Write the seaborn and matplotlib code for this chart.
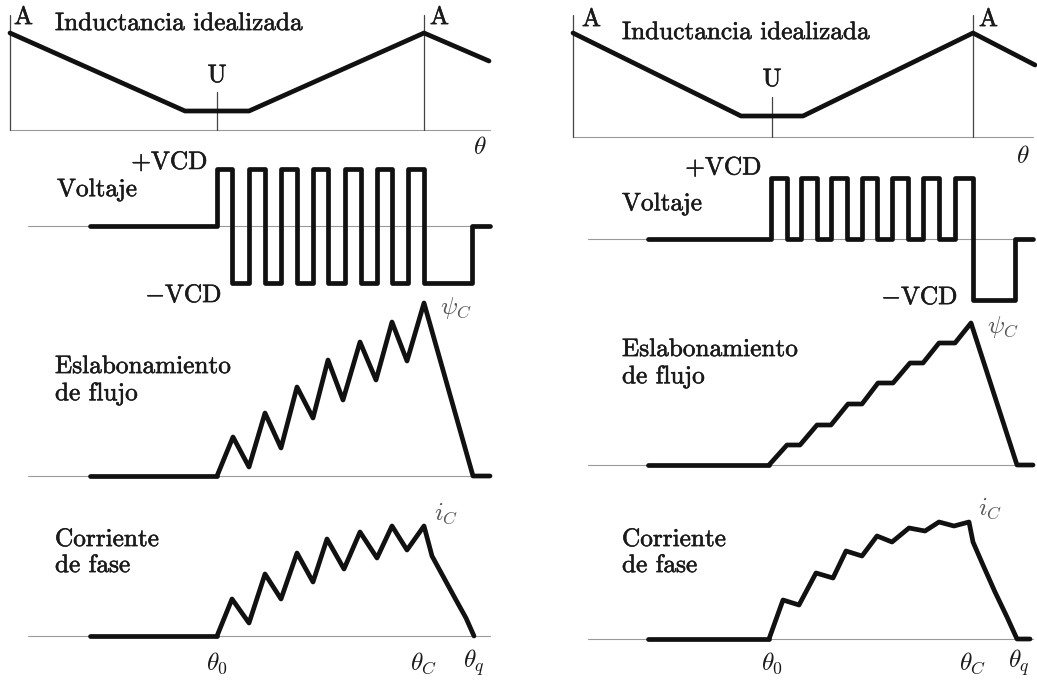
import matplotlib
matplotlib.use("Agg")
import matplotlib.pyplot as plt
import matplotlib.patheffects as pe
import seaborn as sns

# ---------------- data: left column (bipolar switching) ----------------
# θ in arbitrary angular units measured from the aligned position A
L_ind_theta = [0, 175, 239, 414, 479]
L_ind_val = [97, 19, 19, 97, 69]
L_theta_A = [0, 414]
L_theta_U = 207
L_axis_end = 480
L_thin_start = 18
L_thick_start = 80

L_on = [207, 239, 271, 303, 335, 367, 398]
L_off = [222, 255, 287, 318, 351, 382, 414]
L_gap_level = -1
L_tail_theta = [414, 462, 462, 480]
L_tail_v = [-1, -1, 0, 0]

L_flux_theta = [207, 223, 239, 255, 271, 287, 303, 318, 333, 350, 366, 382, 397, 414, 463, 480]
L_flux_val = [0, 39, 9, 63, 28, 89, 58, 116, 76, 134, 96, 154, 115, 173, 0, 0]

L_cur_theta = [207, 222, 239, 255, 271, 287, 303, 317, 334, 350, 367, 382, 397, 414, 422, 434, 446, 456, 464]
L_cur_val = [0, 37, 13, 62, 37, 83, 54, 97, 67, 104, 78, 110, 86, 110, 80, 58, 36, 18, 0]
L_theta_marks = [207, 414, 464]

# ---------------- data: right column (unipolar switching) ----------------
R_ind_theta = [0, 168, 230, 400, 462]
R_ind_val = [104, 21, 21, 104, 72]
R_theta_A = [0, 400]
R_theta_U = 199
R_axis_end = 460
R_thin_start = 15
R_thick_start = 75

R_on = [198, 228, 258, 289, 319, 350, 382]
R_off = [214, 244, 274, 304, 335, 366, 400]
R_gap_level = 0
R_tail_theta = [400, 442, 442, 460]
R_tail_v = [-1, -1, 0, 0]

R_flux_theta = [196, 214, 227, 244, 258, 275, 289, 305, 320, 337, 350, 366, 382, 398, 444, 460]
R_flux_val = [0, 20, 20, 40, 40, 61, 61, 82, 82, 102, 102, 122, 122, 142, 0, 0]

R_cur_theta = [196, 210, 226, 243, 260, 273, 289, 304, 319, 336, 352, 366, 381, 396, 400, 410, 422, 434, 444, 457]
R_cur_val = [0, 39, 34, 66, 61, 88, 83, 103, 97, 111, 108, 117, 113, 117, 97, 74, 47, 22, 0, 0]
R_theta_marks = [199, 400, 446]

# ---------------- style ----------------
sns.set_style("white")
plt.rcParams["font.family"] = ["cmr10", "DejaVu Serif"]
plt.rcParams["mathtext.fontset"] = "cm"
plt.rcParams["axes.unicode_minus"] = False
plt.rcParams["axes.formatter.use_mathtext"] = True

INK = "#111111"
GREY = "#9a9a9a"
THICK = 3.4
FS = 18.2

W, H = 1037, 687
fig = plt.figure(figsize=(W / 100, H / 100), dpi=100)
fig.patch.set_facecolor("white")


def panel(left, right, top, bottom, origin, baseline, yscale=1.0):
    ax = fig.add_axes([left / W, 1 - bottom / H, (right - left) / W, (bottom - top) / H])
    ax.set_xlim(left - origin, right - origin)
    ax.set_ylim((baseline - bottom) / yscale, (baseline - top) / yscale)
    ax.axis("off")
    return ax


def curve(ax, x, y, lw=THICK, color=INK):
    sns.lineplot(x=x, y=y, ax=ax, sort=False, estimator=None, color=color,
                 linewidth=lw, solid_capstyle="round", solid_joinstyle="round",
                 legend=False, clip_on=False)


def label(ax, x, y, s, ha="left", va="center", color="#1a1a1a", size=FS, halo=True):
    t = ax.text(x, y, s, ha=ha, va=va, color=color, fontsize=size, clip_on=False)
    if halo:
        t.set_path_effects([pe.withStroke(linewidth=0.4, foreground=color)])


def square_wave(start, on, off, gap, tail_t, tail_v):
    xs, ys = [start], [0]
    level = 0
    for a, b in zip(on, off):
        xs += [a, a, b, b]
        ys += [level, 1, 1, gap]
        level = gap
    xs += tail_t
    ys += tail_v
    return xs, ys


def column(left, right, origin, bases, vscale, ind_t, ind_v, thA, thU, uh, ah,
           axis_end, thin0, thick0, on, off, gap, tail_t, tail_v,
           fl_t, fl_v, cu_t, cu_v, marks, txt):
    b1, b2, b3, b4 = bases
    # --- inductance
    ax = panel(left, right, 0, 160, origin, b1)
    curve(ax, [0, axis_end], [0, 0], lw=0.8, color=GREY)
    for a in thA:
        curve(ax, [a, a], [0, ah], lw=0.9, color="#444444")
    curve(ax, [thU, thU], [0, uh], lw=0.9, color="#444444")
    curve(ax, ind_t, ind_v)
    label(ax, txt["A1"][0], txt["A1"][1], "A")
    label(ax, thA[1] + 6, txt["A1"][1], "A")
    label(ax, txt["title"][0], txt["title"][1], "Inductancia idealizada")
    label(ax, thU, txt["U"], "U", ha="center")
    label(ax, txt["th"][0], txt["th"][1], r"$\theta$", ha="center", halo=False)

    # --- voltage
    ax = panel(left, right, 160, 305, origin, b2, yscale=vscale)
    curve(ax, [thin0, axis_end], [0, 0], lw=0.8, color=GREY)
    vx, vy = square_wave(thick0, on, off, gap, tail_t, tail_v)
    curve(ax, vx, vy)
    label(ax, txt["pv"][0], txt["pv"][1], r"$+\mathrm{VCD}$", ha="right")
    label(ax, txt["nv"][0], txt["nv"][1], r"$-\mathrm{VCD}$", ha="right")
    label(ax, txt["volt"][0], txt["volt"][1], "Voltaje")

    # --- flux linkage
    ax = panel(left, right, 305, 495, origin, b3)
    curve(ax, [thin0, axis_end], [0, 0], lw=0.8, color=GREY)
    curve(ax, [thick0, fl_t[0]], [0, 0])
    curve(ax, fl_t, fl_v)
    label(ax, txt["psi"][0], txt["psi"][1], r"$\psi_C$", color="#555555", halo=False)
    label(ax, txt["esl"][0], txt["esl"][1], "Eslabonamiento")
    label(ax, txt["esl"][0], txt["esl"][1] - 27, "de flujo")

    # --- phase current
    ax = panel(left, right, 495, 687, origin, b4)
    curve(ax, [thin0, axis_end], [0, 0], lw=0.8, color=GREY)
    curve(ax, [thick0, cu_t[0]], [0, 0])
    curve(ax, cu_t, cu_v)
    label(ax, txt["ic"][0], txt["ic"][1], r"$i_C$", color="#555555", halo=False)
    label(ax, txt["esl"][0], txt["cor"], "Corriente")
    label(ax, txt["esl"][0], txt["cor"] - 26, "de fase")
    for m, s in zip(marks, [r"$\theta_0$", r"$\theta_C$", r"$\theta_q$"]):
        label(ax, m, txt["marks"], s, ha="center", halo=False)


column(0, 520, 10, (130, 226, 476, 636), 57, L_ind_theta, L_ind_val, L_theta_A,
       L_theta_U, 38, 115, L_axis_end, L_thin_start, L_thick_start, L_on, L_off,
       L_gap_level, L_tail_theta, L_tail_v, L_flux_theta, L_flux_val,
       L_cur_theta, L_cur_val, L_theta_marks,
       {"A1": (4, 112), "title": (45, 106), "U": 54, "th": (470, -18),
        "pv": (198, 1.11), "nv": (212, -1.23), "volt": (47, 0.63),
        "psi": (430, 168), "esl": (45, 109), "ic": (424, 122), "cor": 96,
        "marks": -27})

column(555, 1037, 573, (137, 239, 465, 639), 61, R_ind_theta, R_ind_val, R_theta_A,
       R_theta_U, 40, 122, R_axis_end, R_thin_start, R_thick_start, R_on, R_off,
       R_gap_level, R_tail_theta, R_tail_v, R_flux_theta, R_flux_val,
       R_cur_theta, R_cur_val, R_theta_marks,
       {"A1": (9, 117), "title": (49, 104), "U": 57, "th": (450, -20),
        "pv": (189, 1.16), "nv": (385, -0.97), "volt": (49, 0.57),
        "psi": (414, 138), "esl": (49, 115), "ic": (405, 130), "cor": 99,
        "marks": -24})

fig.savefig("out.png", dpi=100, facecolor="white")
